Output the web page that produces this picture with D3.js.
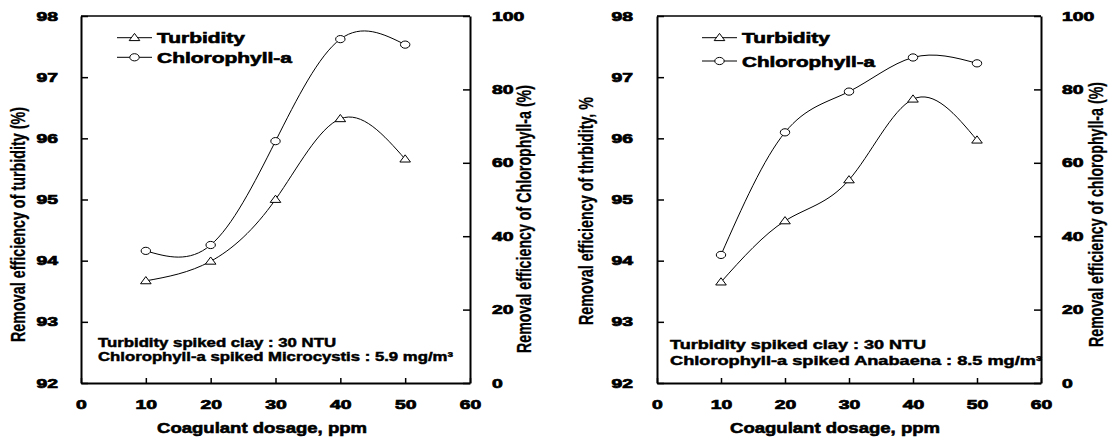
<!DOCTYPE html>
<html lang="en">
<head>
  <meta charset="UTF-8">
  <title>Coagulant dosage</title>
  <style>
    body { margin: 0; background: #fff; }
    text { font-family: "Liberation Sans", Arial, sans-serif; fill: #000; }
  </style>
</head>
<body>
  <script src="https://d3js.org/d3.v7.min.js"></script>
  <div id="chart"></div>

  <script>
    // data =====================================================================
    const dosage = [10, 20, 30, 40, 50]
    const xTicks = [0, 10, 20, 30, 40, 50, 60]
    const turbTicks = [92, 93, 94, 95, 96, 97, 98]
    const chlTicks = [0, 20, 40, 60, 80, 100]

    // left panel: Microcystis
    const turbidityA = [93.67, 93.99, 95.0, 96.32, 95.66]
    const chlorophyllA = [36.0, 37.6, 65.9, 93.7, 92.2]
    // right panel: Anabaena
    const turbidityB = [93.65, 94.65, 95.32, 96.64, 95.97]
    const chlorophyllB = [34.9, 68.3, 79.4, 88.7, 87.1]

    const legendNames = ['Turbidity', 'Chlorophyll-a']

    const svg = d3.select('#chart')
      .append('svg')
      .attr('width', 1111)
      .attr('height', 438)

    // text helper, the scanned figure is stretched sideways
    function label(g, str, x, y, o) {
      const sx = o.sx || 1
      const t = g.append('text')
        .attr('transform', `translate(${x},${y}) scale(${sx},1)` + (o.rot ? ` rotate(${o.rot})` : ''))
        .attr('font-size', o.size)
        .attr('font-weight', 'bold')
        .attr('text-anchor', o.anchor || 'start')
        .attr('stroke', '#000')
        .attr('stroke-width', o.sw || 0.5)
        .text(str)
      if (o.len) t.attr('textLength', o.len).attr('lengthAdjust', 'spacingAndGlyphs')
      return t
    }

    const triangle = 'M0,-4.3L5.3,2.9L-5.3,2.9Z'

    function marker(g, kind, x, y) {
      if (kind === 0) {
        g.append('path').attr('d', triangle)
          .attr('transform', `translate(${x},${y})`)
          .attr('fill', '#fff').attr('stroke', '#000').attr('stroke-width', 1)
      } else {
        g.append('ellipse').attr('cx', x).attr('cy', y)
          .attr('rx', 4.7).attr('ry', 3.6)
          .attr('fill', '#fff').attr('stroke', '#000').attr('stroke-width', 1)
      }
    }

    function drawPanel(p) {
      const g = svg.append('g')
      const x = d3.scaleLinear().domain([0, 60]).range([p.x0, p.x1])
      const yT = d3.scaleLinear().domain([92, 98]).range([p.y1, p.y0])
      const yC = d3.scaleLinear().domain([0, 100]).range([p.y1, p.y0])
      const tsx = 1.55

      // axes, ticks point inward
      const ax = g.append('g')
        .attr('transform', `translate(0,${p.y1})`)
        .call(d3.axisBottom(x).tickValues(xTicks).tickSize(-5).tickSizeOuter(0))
      ax.selectAll('text').attr('y', 17.5).attr('transform', `scale(${tsx},1)`)
        .attr('x', 0)

      const al = g.append('g')
        .attr('transform', `translate(${p.x0},0)`)
        .call(d3.axisLeft(yT).tickValues(turbTicks).tickFormat(d3.format('d')).tickSize(-7).tickSizeOuter(0))
      al.selectAll('text').attr('x', -p.gapL / tsx).attr('transform', `scale(${tsx},1)`)

      const ar = g.append('g')
        .attr('transform', `translate(${p.x1},0)`)
        .call(d3.axisRight(yC).tickValues(chlTicks).tickSize(-7).tickSizeOuter(0))
      ar.selectAll('text').attr('x', p.gapR / tsx).attr('transform', `scale(${tsx},1)`)

      g.selectAll('.tick text')
        .attr('font-size', 12.5).attr('font-weight', 'bold')
        .attr('stroke', '#000').attr('stroke-width', 0.7)
        .style('font-family', '"Liberation Sans", Arial, sans-serif')
      g.selectAll('.domain').attr('stroke-width', 2)
      g.selectAll('.tick line').attr('stroke-width', 1.5)

      // top frame
      g.append('line')
        .attr('x1', p.x0).attr('x2', p.x1)
        .attr('y1', p.y0).attr('y2', p.y0)
        .attr('stroke', '#000').attr('stroke-width', 1.5)

      // curves
      const series = [
        { vals: p.turb, y: yT, kind: 0 },
        { vals: p.chl, y: yC, kind: 1 }
      ]
      series.forEach(s => {
        const line = d3.line()
          .x((d, i) => x(dosage[i]))
          .y(d => s.y(d))
          .curve(d3.curveNatural)
        g.append('path')
          .attr('d', line(s.vals))
          .attr('fill', 'none').attr('stroke', '#000').attr('stroke-width', 1)
        s.vals.forEach((d, i) => marker(g, s.kind, x(dosage[i]), s.y(d)))
      })

      // legend
      p.legend.forEach((r, i) => {
        g.append('line')
          .attr('x1', r.lx).attr('x2', r.lx + 35)
          .attr('y1', r.ly).attr('y2', r.ly)
          .attr('stroke', '#000').attr('stroke-width', 1)
        marker(g, i, r.lx + 17.5, r.ly)
        label(g, legendNames[i], r.lx + 40, r.ty, { size: 14.5, len: r.len, sw: 0.6 })
      })

      // note
      p.note.forEach(n => label(g, n.text, n.x, n.y, { size: 12, len: n.len, sw: 0.45 }))

      // titles
      label(g, 'Coagulant dosage, ppm', p.xt.x, 433, { size: 15.5, len: p.xt.len, sw: 0.6 })
      label(g, p.titleL.text, p.titleL.x, p.titleL.y,
        { size: 13.5, sx: 1.55, rot: -90, anchor: 'middle', len: p.titleL.len, sw: 0.2 })
      label(g, p.titleR.text, p.titleR.x, p.titleR.y,
        { size: 13.5, sx: 1.55, rot: -90, anchor: 'middle', len: p.titleR.len, sw: 0.2 })
    }

    drawPanel({
      x0: 81, x1: 470, y0: 16, y1: 383, gapL: 23, gapR: 22,
      turb: turbidityA, chl: chlorophyllA,
      legend: [
        { lx: 117, ly: 37.7, ty: 42.5, len: 88 },
        { lx: 117, ly: 57.3, ty: 62.5, len: 135 }
      ],
      note: [
        { text: 'Turbidity spiked clay : 30 NTU', x: 98, y: 347, len: 238 },
        { text: 'Chlorophyll-a spiked Microcystis : 5.9 mg/m³', x: 98, y: 361, len: 355 }
      ],
      xt: { x: 157, len: 210 },
      titleL: { text: 'Removal efficiency of turbidity (%)', x: 25, y: 224.5, len: 235 },
      titleR: { text: 'Removal efficiency of Chlorophyll-a (%)', x: 531, y: 219, len: 268 }
    })

    drawPanel({
      x0: 657, x1: 1041, y0: 16, y1: 383, gapL: 24, gapR: 21,
      turb: turbidityB, chl: chlorophyllB,
      legend: [
        { lx: 702, ly: 37.7, ty: 42.5, len: 88 },
        { lx: 702, ly: 61, ty: 67, len: 133 }
      ],
      note: [
        { text: 'Turbidity spiked clay : 30 NTU', x: 670, y: 349, len: 256 },
        { text: 'Chlorophyll-a spiked Anabaena : 8.5 mg/m³', x: 670, y: 365, len: 372 }
      ],
      xt: { x: 730, len: 210 },
      titleL: { text: 'Removal efficiency of thrbidity, %', x: 593, y: 211, len: 228 },
      titleR: { text: 'Removal efficiency of chlorophyll-a (%)', x: 1103, y: 214.5, len: 265 }
    })
  </script>
</body>
</html>
